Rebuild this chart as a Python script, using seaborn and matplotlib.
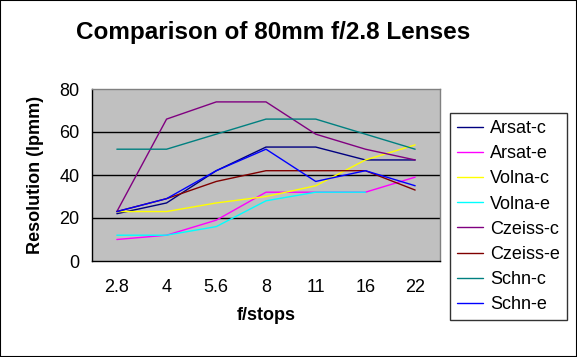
import numpy as np
import pandas as pd
import matplotlib
matplotlib.use("Agg")
import matplotlib.pyplot as plt
import seaborn as sns

# data
stops = ["2.8", "4", "5.6", "8", "11", "16", "22"]
lenses = ["Arsat-c", "Arsat-e", "Volna-c", "Volna-e",
          "Czeiss-c", "Czeiss-e", "Schn-c", "Schn-e"]
arsat_c = [22, 27, 42, 53, 53, 47, 47]
arsat_e = [10, 12, 19, 32, 32, 32, 39]
volna_c = [23, 23, 27, 30, 35, 47, 54]
volna_e = [12, 12, 16, 28, 32, 32, np.nan]
czeiss_c = [23, 66, 74, 74, 59, 52, 47]
czeiss_e = [23, 29, 37, 42, 42, 42, 33]
schn_c = [52, 52, 59, 66, 66, 59, 52]
schn_e = [23, 29, 42, 52, 37, 42, 35]
colors = ["#000080", "#FF00FF", "#FFFF00", "#00FFFF",
          "#800080", "#800000", "#008080", "#0000FF"]

series = [arsat_c, arsat_e, volna_c, volna_e, czeiss_c, czeiss_e, schn_c, schn_e]
rows = []
for name, vals in zip(lenses, series):
    for i, v in enumerate(vals):
        rows.append({"pos": i, "stop": stops[i], "lens": name, "res": v})
df = pd.DataFrame(rows).dropna()

sns.set_style("white")
plt.rcParams["font.family"] = ["Liberation Sans", "DejaVu Sans"]
plt.rcParams["text.color"] = "black"
plt.rcParams["axes.labelcolor"] = "black"
plt.rcParams["xtick.color"] = "black"
plt.rcParams["ytick.color"] = "black"

fig = plt.figure(figsize=(5.77, 3.57), dpi=100)
ax = fig.add_axes([92 / 577, 1 - 261 / 357, 348 / 577, 172 / 357])
ax.set_facecolor("#C0C0C0")

sns.lineplot(data=df, x="pos", y="res", hue="lens", hue_order=lenses,
             palette=dict(zip(lenses, colors)), linewidth=1.0, ax=ax,
             legend=False, sort=False)

ax.set_xlim(-0.5, 6.5)
ax.set_ylim(0, 80)
ax.set_yticks([0, 20, 40, 60, 80])
ax.set_yticklabels(["0", "20", "40", "60", "80"], fontsize=13)
ax.set_xticks(np.arange(-0.5, 7, 1), minor=False)
ax.set_xticklabels([])
ax.set_xticks(np.arange(7), minor=True)
ax.set_xticklabels(stops, minor=True, fontsize=13)
ax.tick_params(axis="x", which="minor", length=0, pad=13)
ax.tick_params(axis="x", which="major", direction="out", length=5, width=1, color="black")
ax.tick_params(axis="y", direction="out", length=5, width=1, color="black", pad=4)
for y in [20, 40, 60]:
    ax.axhline(y, color="black", linewidth=1, zorder=0.5)

for side in ["top", "right"]:
    ax.spines[side].set_color("#808080")
for side in ["left", "bottom"]:
    ax.spines[side].set_color("black")
for s in ax.spines.values():
    s.set_linewidth(1)
    s.set_visible(True)

ax.set_xlabel("f/stops", fontsize=13, fontweight="bold", labelpad=8)
ax.set_ylabel("Resolution (lpmm)", fontsize=13, fontweight="bold", labelpad=11)

fig.text(273 / 577, 1 - 32 / 357, "Comparison of 80mm f/2.8 Lenses",
         fontsize=17.5, fontweight="bold", ha="center", va="center")

handles = [plt.Line2D([], [], color=c, linewidth=1) for c in colors]
leg = fig.legend(handles, lenses, loc="upper left",
                 bbox_to_anchor=(450 / 577, 1 - 113 / 357),
                 fontsize=13, frameon=True, fancybox=False, shadow=False,
                 handlelength=1.4, handletextpad=0.4, borderpad=0.4,
                 labelspacing=0.45, borderaxespad=0)
leg.get_frame().set_edgecolor("black")
leg.get_frame().set_linewidth(1)

fig.patches.append(plt.Rectangle((0, 0), 1, 1, transform=fig.transFigure,
                                 fill=False, edgecolor="black", linewidth=1.5))

fig.savefig("out.png", dpi=100)
